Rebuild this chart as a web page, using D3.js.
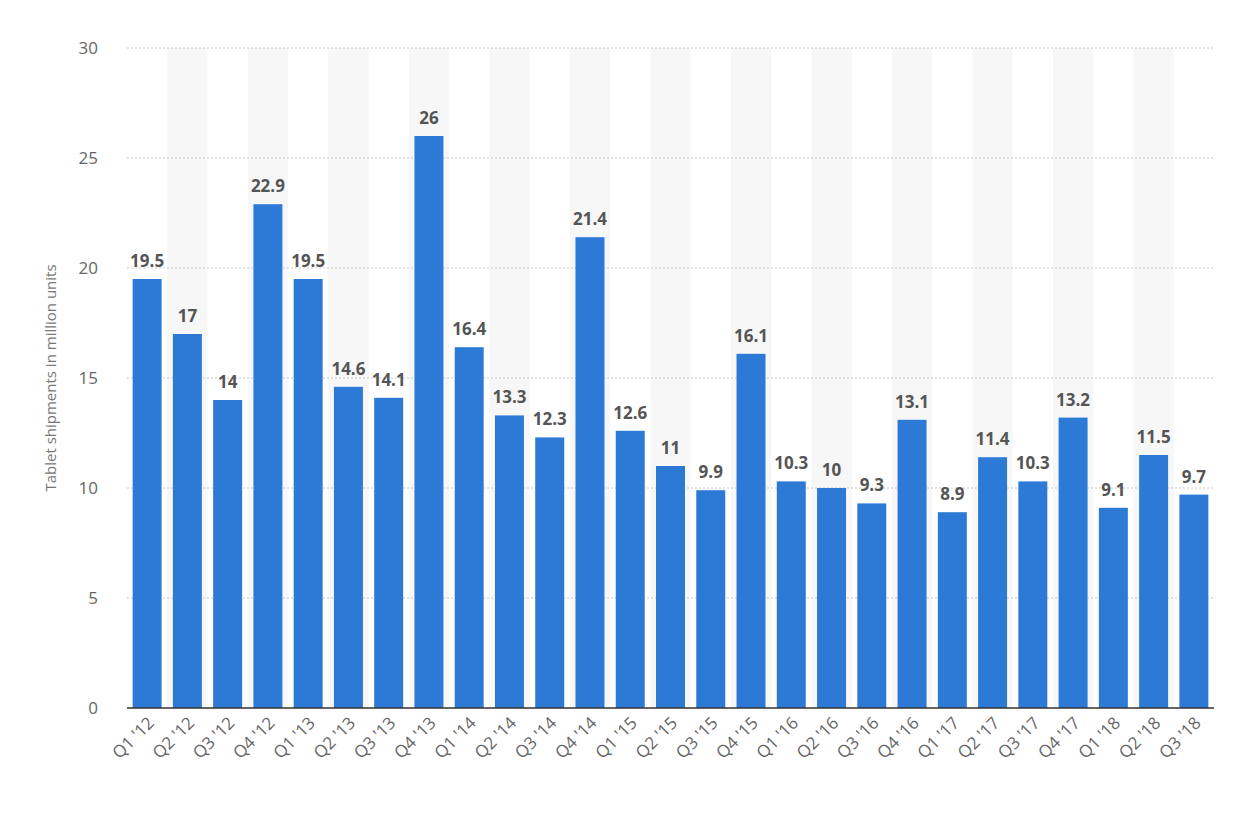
<!DOCTYPE html>
<html><head><meta charset="utf-8">
<script src="https://cdn.jsdelivr.net/npm/d3@7"></script>
<style>body{margin:0;background:#fff;font-family:"Open Sans",sans-serif}</style>
</head><body><svg width="1240" height="823"></svg>
<script>
var quarters = ["Q1 '12","Q2 '12","Q3 '12","Q4 '12","Q1 '13","Q2 '13","Q3 '13","Q4 '13","Q1 '14","Q2 '14","Q3 '14","Q4 '14","Q1 '15","Q2 '15","Q3 '15","Q4 '15","Q1 '16","Q2 '16","Q3 '16","Q4 '16","Q1 '17","Q2 '17","Q3 '17","Q4 '17","Q1 '18","Q2 '18","Q3 '18"];
var shipments = [19.5,17,14,22.9,19.5,14.6,14.1,26,16.4,13.3,12.3,21.4,12.6,11,9.9,16.1,10.3,10,9.3,13.1,8.9,11.4,10.3,13.2,9.1,11.5,9.7];
var yTicks = [0,5,10,15,20,25,30];

var svg = d3.select("svg");
var x = d3.scaleBand().domain(quarters).range([127,1214]).paddingInner(0.28).paddingOuter(0.14);
var band = d3.scaleBand().domain(quarters).range([127,1214]);
var y = d3.scaleLinear().domain([0,30]).range([708,48]);

// stripes
svg.selectAll(".stripe").data(quarters.filter(function(d,i){return i%2==1}))
  .join("rect").attr("x", function(d){return band(d)}).attr("y", y(30))
  .attr("width", band.bandwidth()).attr("height", y(0)-y(30)).attr("fill","#f7f7f7");

// grid
svg.selectAll(".grid").data(yTicks.slice(1)).join("line")
  .attr("x1",127).attr("x2",1214).attr("y1",function(d){return y(d)}).attr("y2",function(d){return y(d)})
  .attr("stroke","#c8c8c8").attr("stroke-dasharray","2,2");

svg.selectAll(".ytick").data(yTicks).join("text")
  .attr("x",98).attr("y",function(d){return y(d)+6}).attr("text-anchor","end")
  .attr("fill","#666").attr("font-size",17).text(function(d){return d});

svg.selectAll(".bar").data(shipments).join("rect")
  .attr("x",function(d,i){return x(quarters[i])}).attr("y",function(d){return y(d)})
  .attr("width",x.bandwidth()).attr("height",function(d){return y(0)-y(d)}).attr("fill","#2d7ad6");

svg.selectAll(".lbl").data(shipments).join("text")
  .attr("x",function(d,i){return x(quarters[i])+x.bandwidth()/2}).attr("y",function(d){return y(d)-12})
  .attr("text-anchor","middle").attr("font-weight","bold").attr("font-size",17).attr("fill","#555")
  .text(function(d){return d});

svg.append("line").attr("x1",127).attr("x2",1214).attr("y1",708).attr("y2",708).attr("stroke","#333").attr("stroke-width",1.5);

svg.selectAll(".xl").data(quarters).join("text")
  .attr("transform",function(d){return "translate("+(band(d)+band.bandwidth()/2+8)+",724) rotate(-45)"})
  .attr("text-anchor","end").attr("fill","#666").attr("font-size",17).text(function(d){return d});

svg.append("text").attr("transform","translate(56,378) rotate(-90)").attr("text-anchor","middle")
  .attr("fill","#777").attr("font-size",15).text("Tablet shipments in million units");
</script></body></html>
